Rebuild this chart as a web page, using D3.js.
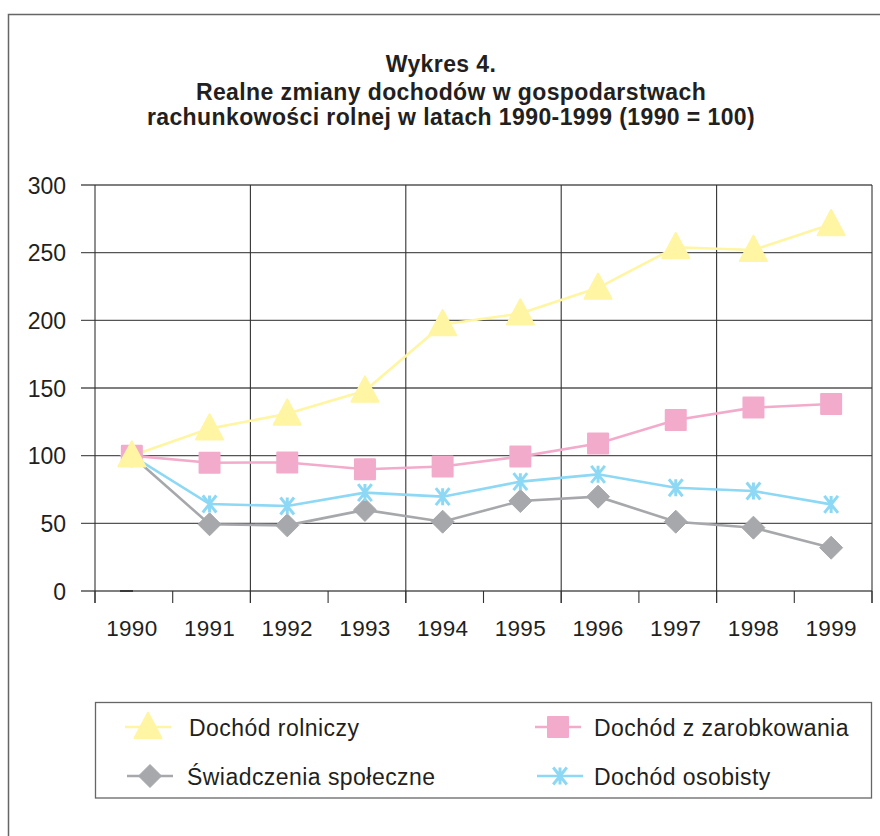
<!DOCTYPE html>
<html><head><meta charset="utf-8">
<script src="https://cdn.jsdelivr.net/npm/d3@7"></script>
<style>body{margin:0;background:#fff}svg{display:block}text{font-family:"Liberation Sans",Arial,sans-serif;fill:#231f20}</style>
</head><body><svg id="c" width="880" height="836"></svg>
<script>
const years = ["1990","1991","1992","1993","1994","1995","1996","1997","1998","1999"];
const rolniczy = [100,120,131,148,197,205,224,254,252,271];
const zarobkowania = [100,94.8,95,90,92,99.3,109,126.4,135.5,138.2];
const swiadczenia = [100,49.3,48.5,59.9,51.2,66.5,69.7,51.2,46.8,32];
const osobisty = [100,64.3,62.8,72.7,69.7,80.8,86.2,76.3,73.9,64];
const yTicks = [0,50,100,150,200,250,300];
const titleLines = ["Wykres 4.","Realne zmiany dochodów w gospodarstwach","rachunkowości rolnej w latach 1990-1999 (1990 = 100)"];
const seriesNames = ["Dochód rolniczy","Dochód z zarobkowania","Świadczenia społeczne","Dochód osobisty"];

const svg = d3.select("#c");
svg.append("rect").attr("x",8.5).attr("y",14.5).attr("width",900).attr("height",900)
  .attr("fill","none").attr("stroke","#666").attr("stroke-width",1.5);

const x = d3.scaleBand().domain(years).range([95,872]);
const y = d3.scaleLinear().domain([0,300]).range([591,185]);
const cx = d => x(d) + x.bandwidth()/2 - 2;

// title
svg.append("g").selectAll("text").data(titleLines).join("text")
  .attr("x",(d,i)=> i===0?441:451).attr("y",(d,i)=>[71.5,99.5,125][i])
  .attr("text-anchor","middle").attr("font-size",23).attr("font-weight","bold")
  .attr("letter-spacing",0.4).text(d=>d);

// horizontal grid
const g = svg.append("g");
g.selectAll("line.h").data(yTicks).join("line")
  .attr("x1",81).attr("x2",872).attr("y1",d=>y(d)).attr("y2",d=>y(d))
  .attr("stroke","#555").attr("stroke-width",1.3);
const bounds = years.map(d=>x(d)).concat([x.range()[1]]);
g.selectAll("line.v").data(bounds.filter((d,i)=>i%2===0)).join("line")
  .attr("x1",d=>d).attr("x2",d=>d).attr("y1",185).attr("y2",603)
  .attr("stroke","#333").attr("stroke-width",1.1);
g.selectAll("line.t").data(bounds).join("line")
  .attr("x1",d=>d).attr("x2",d=>d).attr("y1",591).attr("y2",603)
  .attr("stroke","#333").attr("stroke-width",1.1);

// y labels
svg.append("g").selectAll("text").data(yTicks).join("text")
  .attr("x",66).attr("y",d=>y(d)+8.5).attr("text-anchor","end").attr("font-size",23).text(d=>d);
// x labels
svg.append("g").selectAll("text").data(years).join("text")
  .attr("x",d=>cx(d)).attr("y",635.5).attr("text-anchor","middle").attr("font-size",22.5)
  .attr("letter-spacing",0.3).text(d=>d);

// small mark at zero
svg.append("line").attr("x1",120).attr("x2",133).attr("y1",y(0)).attr("y2",y(0)).attr("stroke","#222").attr("stroke-width",1.5);

const cols = {rol:"#fff5a3", zar:"#f3abcc", swi:"#a7a8ab", oso:"#8dd8f5"};
const tri = (s)=>`M0,${-s*0.55}L${s*0.52},${s*0.42}L${-s*0.52},${s*0.42}Z`;
const sq = (s)=>`M${-s/2},${-s/2}h${s}v${s}h${-s}Z`;
const dia = (s)=>`M0,${-s/2}L${s/2},0L0,${s/2}L${-s/2},0Z`;
const star = (s)=>`M${-s*0.4},${-s/2}L${s*0.4},${s/2}M${s*0.4},${-s/2}L${-s*0.4},${s/2}M0,${-s/2}L0,${s/2}`;

function drawMarker(sel, type, col){
  if(type==="rol") sel.append("path").attr("d",tri(26)).attr("fill",col).attr("stroke",col).attr("stroke-width",2).attr("stroke-linejoin","round");
  if(type==="zar") sel.append("path").attr("d",sq(20)).attr("fill",col).attr("stroke",col).attr("stroke-width",2).attr("stroke-linejoin","round");
  if(type==="swi") sel.append("path").attr("d",dia(23)).attr("fill",col).attr("stroke",col).attr("stroke-width",1).attr("stroke-linejoin","round");
  if(type==="oso") sel.append("path").attr("d",star(17)).attr("fill","none").attr("stroke",col).attr("stroke-width",3);
}

const series = [
  {k:"swi", v:swiadczenia},
  {k:"oso", v:osobisty},
  {k:"zar", v:zarobkowania},
  {k:"rol", v:rolniczy}
];
const line = d3.line().x((d,i)=>cx(years[i])).y(d=>y(d));
series.forEach(s=>{
  svg.append("path").attr("d",line(s.v)).attr("fill","none").attr("stroke",cols[s.k]).attr("stroke-width",2.6);
});
series.forEach(s=>{
  s.v.forEach((v,i)=>{
    const m = svg.append("g").attr("transform",`translate(${cx(years[i])},${y(v)})`);
    drawMarker(m, s.k, cols[s.k]);
  });
});

// legend
svg.append("rect").attr("x",95.5).attr("y",702.5).attr("width",776).attr("height",95.5)
  .attr("fill","none").attr("stroke","#666").attr("stroke-width",1.3);
const leg = [
  {k:"rol", name:seriesNames[0], lx:125, ly:727, tx:189},
  {k:"zar", name:seriesNames[1], lx:535, ly:727, tx:594},
  {k:"swi", name:seriesNames[2], lx:127, ly:776, tx:187},
  {k:"oso", name:seriesNames[3], lx:537, ly:776, tx:594}
];
leg.forEach(l=>{
  svg.append("line").attr("x1",l.lx).attr("x2",l.lx+46).attr("y1",l.ly).attr("y2",l.ly).attr("stroke",cols[l.k]).attr("stroke-width",2.6);
  const m = svg.append("g").attr("transform",`translate(${l.lx+23},${l.ly})`);
  drawMarker(m, l.k, cols[l.k]);
  svg.append("text").attr("x",l.tx).attr("y",l.ly+8.5).attr("font-size",23)
    .attr("letter-spacing",0.45).text(l.name);
});
</script></body></html>
